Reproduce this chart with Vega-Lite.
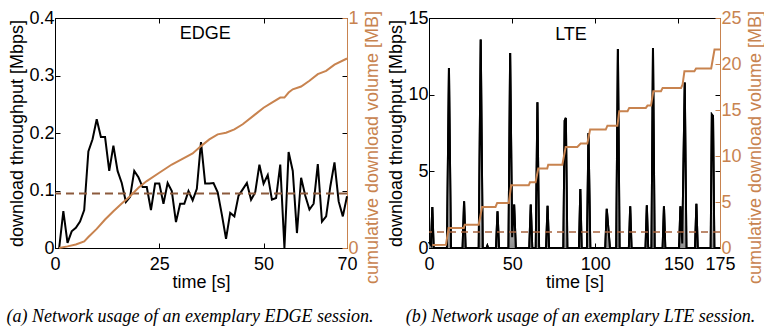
{
  "$schema": "https://vega.github.io/schema/vega-lite/v6.json",
  "padding": {"left": 6, "top": 8, "right": 0, "bottom": 0},
  "background": "white",
  "config": {
    "font": "Liberation Sans",
    "view": {"stroke": "black", "strokeWidth": 1},
    "axis": {
      "labelFont": "Liberation Sans",
      "titleFont": "Liberation Sans",
      "labelFontSize": 18,
      "titleFontSize": 18,
      "titleFontWeight": "normal",
      "labelColor": "black",
      "titleColor": "black",
      "domainColor": "black",
      "tickColor": "black",
      "grid": false,
      "tickSize": -5,
      "labelFlush": false,
      "labelOverlap": false
    },
    "title": {
      "font": "Liberation Serif",
      "fontStyle": "italic",
      "fontWeight": "normal",
      "fontSize": 18,
      "color": "black",
      "orient": "bottom",
      "offset": 17
    }
  },
  "datasets": {
    "edgeRate": [
      {"t": 1, "rate": 0}, {"t": 2, "rate": 0.064}, {"t": 3, "rate": 0.009}, {"t": 4, "rate": 0.029},
      {"t": 5, "rate": 0.035}, {"t": 6, "rate": 0.046}, {"t": 7, "rate": 0.066}, {"t": 8, "rate": 0.168},
      {"t": 9, "rate": 0.189}, {"t": 10, "rate": 0.224}, {"t": 11, "rate": 0.193}, {"t": 12, "rate": 0.193},
      {"t": 13, "rate": 0.134}, {"t": 14, "rate": 0.178}, {"t": 15, "rate": 0.134}, {"t": 16, "rate": 0.113},
      {"t": 17, "rate": 0.08}, {"t": 18, "rate": 0.089}, {"t": 19, "rate": 0.134}, {"t": 20, "rate": 0.123},
      {"t": 21, "rate": 0.106}, {"t": 22, "rate": 0.106}, {"t": 23, "rate": 0.066}, {"t": 24, "rate": 0.112},
      {"t": 25, "rate": 0.112}, {"t": 26, "rate": 0.077}, {"t": 27, "rate": 0.113}, {"t": 28, "rate": 0.099},
      {"t": 29, "rate": 0.045}, {"t": 30, "rate": 0.077}, {"t": 31, "rate": 0.077}, {"t": 32, "rate": 0.099},
      {"t": 33, "rate": 0.083}, {"t": 34, "rate": 0.103}, {"t": 35, "rate": 0.184}, {"t": 36, "rate": 0.112},
      {"t": 37, "rate": 0.112}, {"t": 38, "rate": 0.113}, {"t": 39, "rate": 0.097}, {"t": 40, "rate": 0.058},
      {"t": 41, "rate": 0.016}, {"t": 42, "rate": 0.061}, {"t": 43, "rate": 0.055}, {"t": 44, "rate": 0.091},
      {"t": 45, "rate": 0.102}, {"t": 46, "rate": 0.113}, {"t": 47, "rate": 0.084}, {"t": 48, "rate": 0.097},
      {"t": 49, "rate": 0.145}, {"t": 50, "rate": 0.112}, {"t": 51, "rate": 0.127}, {"t": 52, "rate": 0.084},
      {"t": 53, "rate": 0.087}, {"t": 54, "rate": 0.145}, {"t": 55, "rate": 0.0}, {"t": 56, "rate": 0.167},
      {"t": 57, "rate": 0.134}, {"t": 58, "rate": 0.026}, {"t": 59, "rate": 0.122}, {"t": 60, "rate": 0.091},
      {"t": 61, "rate": 0.067}, {"t": 62, "rate": 0.077}, {"t": 63, "rate": 0.146}, {"t": 64, "rate": 0.046},
      {"t": 65, "rate": 0.055}, {"t": 66, "rate": 0.107}, {"t": 67, "rate": 0.149}, {"t": 68, "rate": 0.081},
      {"t": 69, "rate": 0.055}, {"t": 70, "rate": 0.09}
    ],
    "edgeVolume": [
      {"t": 1, "vol": 0}, {"t": 3, "vol": 0.007}, {"t": 5, "vol": 0.015}, {"t": 7, "vol": 0.029},
      {"t": 8, "vol": 0.048}, {"t": 10, "vol": 0.083}, {"t": 12, "vol": 0.124}, {"t": 14, "vol": 0.16},
      {"t": 16, "vol": 0.193}, {"t": 18, "vol": 0.225}, {"t": 20, "vol": 0.262}, {"t": 22, "vol": 0.291},
      {"t": 25, "vol": 0.327}, {"t": 28, "vol": 0.363}, {"t": 30, "vol": 0.382}, {"t": 33, "vol": 0.411},
      {"t": 35, "vol": 0.443}, {"t": 37, "vol": 0.472}, {"t": 39, "vol": 0.494}, {"t": 41, "vol": 0.501},
      {"t": 43, "vol": 0.516}, {"t": 45, "vol": 0.538}, {"t": 48, "vol": 0.581}, {"t": 50, "vol": 0.61},
      {"t": 52, "vol": 0.632}, {"t": 54, "vol": 0.654}, {"t": 55, "vol": 0.654}, {"t": 56, "vol": 0.676},
      {"t": 57, "vol": 0.69}, {"t": 59, "vol": 0.702}, {"t": 61, "vol": 0.727}, {"t": 63, "vol": 0.756},
      {"t": 65, "vol": 0.77}, {"t": 67, "vol": 0.797}, {"t": 70, "vol": 0.824}
    ],
    "edgeMean": [{"rate": 0.095}],
    "lteRate": [
      {"t": 0, "rate": 0.4}, {"t": 1.2, "rate": 0.2}, {"t": 2, "rate": 2.67}, {"t": 2.8, "rate": 0},
      {"t": 10.8, "rate": 0}, {"t": 12, "rate": 11.74}, {"t": 13.2, "rate": 0},
      {"t": 20.2, "rate": 0}, {"t": 21.1, "rate": 3.04}, {"t": 22, "rate": 0},
      {"t": 29.9, "rate": 0}, {"t": 31.1, "rate": 13.59}, {"t": 32.3, "rate": 0},
      {"t": 34.6, "rate": 0}, {"t": 35.1, "rate": 0.15}, {"t": 35.6, "rate": 0},
      {"t": 40.3, "rate": 0}, {"t": 41.2, "rate": 2.39}, {"t": 42.1, "rate": 0},
      {"t": 47.8, "rate": 0}, {"t": 48.8, "rate": 12.72}, {"t": 50, "rate": 0.7}, {"t": 51.2, "rate": 2.83}, {"t": 52.2, "rate": 0},
      {"t": 60.3, "rate": 0}, {"t": 61.2, "rate": 2.83}, {"t": 62.1, "rate": 0},
      {"t": 64.2, "rate": 0}, {"t": 65.2, "rate": 9.5}, {"t": 66.2, "rate": 0},
      {"t": 70.4, "rate": 0}, {"t": 71.3, "rate": 2.76}, {"t": 72.2, "rate": 0},
      {"t": 80.8, "rate": 0}, {"t": 81.6, "rate": 8.3}, {"t": 82.3, "rate": 8.48}, {"t": 83.2, "rate": 0},
      {"t": 90.2, "rate": 0}, {"t": 91, "rate": 3.85}, {"t": 91.8, "rate": 0},
      {"t": 95, "rate": 0}, {"t": 95.9, "rate": 7.5}, {"t": 97, "rate": 0},
      {"t": 106, "rate": 0}, {"t": 106.9, "rate": 2.55}, {"t": 108.8, "rate": 0},
      {"t": 112.6, "rate": 0}, {"t": 113.6, "rate": 12.98}, {"t": 114.6, "rate": 0},
      {"t": 120.2, "rate": 0}, {"t": 121, "rate": 2.72}, {"t": 121.8, "rate": 0},
      {"t": 130.2, "rate": 0}, {"t": 131, "rate": 2.78}, {"t": 131.8, "rate": 0},
      {"t": 133.8, "rate": 0}, {"t": 134.7, "rate": 13.04}, {"t": 135.7, "rate": 0},
      {"t": 140.5, "rate": 0}, {"t": 141.3, "rate": 2.72}, {"t": 142.1, "rate": 0},
      {"t": 150.4, "rate": 0}, {"t": 151.2, "rate": 2.72}, {"t": 152.3, "rate": 0.3}, {"t": 153.8, "rate": 10.8}, {"t": 154.8, "rate": 0},
      {"t": 160, "rate": 0}, {"t": 160.8, "rate": 2.89}, {"t": 161.6, "rate": 0},
      {"t": 169.4, "rate": 0}, {"t": 170.1, "rate": 8.7}, {"t": 170.8, "rate": 8.6}, {"t": 171.6, "rate": 0},
      {"t": 175, "rate": 0}
    ],
    "lteVolume": [
      {"t": 2, "vol": 0.33}, {"t": 10.2, "vol": 0.36}, {"t": 11.8, "vol": 2.18}, {"t": 20.9, "vol": 2.18},
      {"t": 21.5, "vol": 2.53}, {"t": 29.9, "vol": 2.53}, {"t": 31.9, "vol": 4.46}, {"t": 40, "vol": 4.46},
      {"t": 41, "vol": 4.9}, {"t": 48, "vol": 4.9}, {"t": 49.4, "vol": 6.81}, {"t": 60, "vol": 6.81},
      {"t": 60.7, "vol": 7.14}, {"t": 64.1, "vol": 7.14}, {"t": 65.7, "vol": 8.63}, {"t": 71.1, "vol": 8.63},
      {"t": 71.7, "vol": 9.06}, {"t": 80.2, "vol": 9.06}, {"t": 82.2, "vol": 10.99}, {"t": 89.2, "vol": 10.99},
      {"t": 91.2, "vol": 11.35}, {"t": 95.2, "vol": 11.35}, {"t": 96.9, "vol": 12.87}, {"t": 106.3, "vol": 12.87},
      {"t": 107.3, "vol": 13.3}, {"t": 113.3, "vol": 13.3}, {"t": 114.4, "vol": 14.86}, {"t": 119.4, "vol": 14.86},
      {"t": 120.4, "vol": 15.23}, {"t": 130.4, "vol": 15.23}, {"t": 131.4, "vol": 15.48}, {"t": 133.5, "vol": 15.48},
      {"t": 134.9, "vol": 17.04}, {"t": 139.5, "vol": 17.04}, {"t": 140.5, "vol": 17.4}, {"t": 151.6, "vol": 17.4},
      {"t": 152.5, "vol": 17.77}, {"t": 153.6, "vol": 19.21}, {"t": 159.6, "vol": 19.21}, {"t": 160.6, "vol": 19.51},
      {"t": 169.7, "vol": 19.51}, {"t": 171.7, "vol": 21.57}, {"t": 175, "vol": 21.57}
    ],
    "lteMean": [{"rate": 1.05}]
  },
  "spacing": 5,
  "hconcat": [
    {
      "width": 292,
      "height": 230,
      "title": {"text": "(a) Network usage of an exemplary EDGE session.", "dx": -11},
      "layer": [
        {
          "layer": [
            {
              "data": {"name": "edgeRate"},
              "mark": {"type": "line", "color": "black", "strokeWidth": 2},
              "encoding": {
                "x": {
                  "field": "t", "type": "quantitative",
                  "scale": {"domain": [0, 70], "nice": false},
                  "axis": {"values": [0, 25, 50, 70], "title": "time [s]", "labelPadding": 12, "titlePadding": 0}
                },
                "y": {
                  "field": "rate", "type": "quantitative",
                  "scale": {"domain": [0, 0.4], "nice": false},
                  "axis": {"values": [0, 0.1, 0.2, 0.3, 0.4], "format": "~g", "title": "download throughput [Mbps]", "labelPadding": 6, "titlePadding": 2}
                }
              }
            },
            {
              "data": {"name": "edgeMean"},
              "mark": {"type": "rule", "color": "#8c5a3c", "strokeWidth": 2, "strokeDash": [8, 5]},
              "encoding": {"y": {"field": "rate", "type": "quantitative", "axis": null}}
            },
            {
              "data": {"values": [{"label": "EDGE"}]},
              "mark": {"type": "text", "fontSize": 18, "font": "Liberation Sans", "color": "black"},
              "encoding": {
                "x": {"datum": 36, "type": "quantitative", "axis": {"orient": "top", "values": [25, 50], "labels": false, "domain": false, "title": null}},
                "y": {"datum": 0.372, "type": "quantitative", "axis": {"orient": "right", "values": [0.1, 0.2, 0.3], "labels": false, "domain": false, "title": null}},
                "text": {"field": "label"}
              }
            }
          ],
          "resolve": {"axis": {"x": "independent", "y": "independent"}}
        },
        {
          "data": {"name": "edgeVolume"},
          "mark": {"type": "line", "color": "#c8834f", "strokeWidth": 2},
          "encoding": {
            "x": {"field": "t", "type": "quantitative", "axis": null},
            "y": {
              "field": "vol", "type": "quantitative",
              "scale": {"domain": [0, 1], "nice": false},
              "axis": {
                "orient": "right", "values": [0, 1], "format": "~g",
                "title": "cumulative download volume [MB]",
                "titleColor": "#c8834f", "labelColor": "#c8834f", "domainColor": "#c8834f", "tickColor": "#c8834f",
                "titleAngle": 270, "titleBaseline": "top", "titleY": 129, "labelPadding": 6, "titlePadding": 5
              }
            }
          }
        }
      ],
      "resolve": {"scale": {"y": "independent"}, "axis": {"y": "independent"}}
    },
    {
      "width": 291,
      "height": 230,
      "title": {"text": "(b) Network usage of an exemplary LTE session.", "dx": 6},
      "layer": [
        {
          "layer": [
            {
              "data": {"name": "lteRate"},
              "mark": {"type": "line", "color": "black", "strokeWidth": 2},
              "encoding": {
                "x": {
                  "field": "t", "type": "quantitative",
                  "scale": {"domain": [0, 175], "nice": false},
                  "axis": {"values": [0, 50, 100, 150, 175], "title": "time [s]", "labelPadding": 12, "titlePadding": 0}
                },
                "y": {
                  "field": "rate", "type": "quantitative",
                  "scale": {"domain": [0, 15], "nice": false},
                  "axis": {"values": [0, 5, 10, 15], "format": "~g", "title": "download throughput [Mbps]", "labelPadding": 6, "titlePadding": 2}
                }
              }
            },
            {
              "data": {"name": "lteRate"},
              "mark": {
                "type": "area",
                "fill": {
                  "gradient": "linear", "x1": 0, "y1": 1, "x2": 0, "y2": 0,
                  "stops": [
                    {"offset": 0, "color": "#8f8f8f"},
                    {"offset": 0.25, "color": "#e6e6e6"},
                    {"offset": 1, "color": "#ffffff"}
                  ]
                }
              },
              "encoding": {
                "x": {"field": "t", "type": "quantitative", "axis": null},
                "y": {"field": "rate", "type": "quantitative", "axis": null}
              }
            },
            {
              "data": {"name": "lteRate"},
              "mark": {"type": "line", "color": "black", "strokeWidth": 2},
              "encoding": {
                "x": {"field": "t", "type": "quantitative", "axis": null},
                "y": {"field": "rate", "type": "quantitative", "axis": null}
              }
            },
            {
              "data": {"name": "lteMean"},
              "mark": {"type": "rule", "color": "#a8643f", "strokeWidth": 1.5, "strokeDash": [7, 5]},
              "encoding": {"y": {"field": "rate", "type": "quantitative", "axis": null}}
            },
            {
              "data": {"values": [{"label": "LTE"}]},
              "mark": {"type": "text", "fontSize": 18, "font": "Liberation Sans", "color": "black"},
              "encoding": {
                "x": {"datum": 85.4, "type": "quantitative", "axis": {"orient": "top", "values": [50, 100, 150], "labels": false, "domain": false, "title": null}},
                "y": {"datum": 13.9, "type": "quantitative", "axis": {"orient": "right", "values": [5, 10], "labels": false, "domain": false, "title": null}},
                "text": {"field": "label"}
              }
            }
          ],
          "resolve": {"axis": {"x": "independent", "y": "independent"}}
        },
        {
          "data": {"name": "lteVolume"},
          "mark": {"type": "line", "color": "#c8834f", "strokeWidth": 2},
          "encoding": {
            "x": {"field": "t", "type": "quantitative", "axis": null},
            "y": {
              "field": "vol", "type": "quantitative",
              "scale": {"domain": [0, 25], "nice": false},
              "axis": {
                "orient": "right", "values": [0, 5, 10, 15, 20, 25], "format": "~g",
                "title": "cumulative download volume [MB]",
                "titleColor": "#c8834f", "labelColor": "#c8834f", "domainColor": "#c8834f", "tickColor": "#c8834f",
                "titleAngle": 270, "titleBaseline": "top", "titleY": 129, "labelPadding": 6, "titlePadding": 5
              }
            }
          }
        }
      ],
      "resolve": {"scale": {"y": "independent"}, "axis": {"y": "independent"}}
    }
  ]
}
